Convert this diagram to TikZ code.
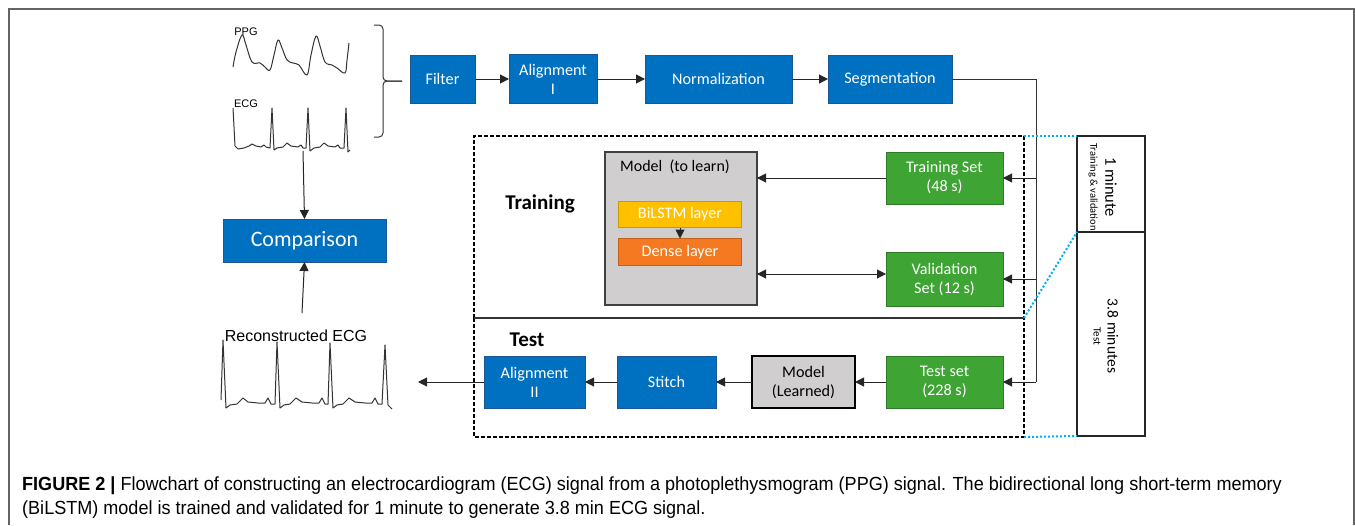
\documentclass[tikz,border=0pt]{standalone}
\usepackage{fontspec}
\setmainfont{Carlito}
\newfontfamily\arialfont{Liberation Sans}
\usetikzlibrary{arrows.meta,positioning}

\definecolor{stepblue}{RGB}{0,112,192}
\definecolor{stepblueline}{RGB}{30,85,150}
\definecolor{setgreen}{RGB}{62,164,52}
\definecolor{setgreenline}{RGB}{45,125,40}
\definecolor{modelgray}{RGB}{208,206,206}
\definecolor{lstmyellow}{RGB}{255,192,0}
\definecolor{denseorange}{RGB}{244,121,32}
\definecolor{splitcyan}{RGB}{0,176,240}
\definecolor{framegray}{RGB}{100,100,100}

\tikzset{
  box/.style={rectangle, inner sep=0pt, outer sep=0pt, align=center,
              font=\fontsize{16.2}{19}\selectfont},
  bluebox/.style={box, fill=stepblue, draw=stepblueline, line width=0.8pt, text=white},
  greenbox/.style={box, fill=setgreen, draw=setgreenline, line width=0.8pt, text=white},
  arr/.style={-{Triangle[length=9pt,width=9pt]}, line width=1pt, draw=black!85},
  dblarr/.style={{Triangle[length=9pt,width=9pt]}-{Triangle[length=9pt,width=9pt]}, line width=1pt, draw=black!85},
  signal/.style={line width=1pt, draw=black!80, line join=round},
  splitline/.style={draw=splitcyan, line width=2pt, dotted},
  panel/.style={rectangle, draw=black!85, line width=1.5pt, inner sep=0pt, outer sep=0pt, minimum width=68pt},
  sidetext/.style={rotate=-90, inner sep=0pt}
}

\begin{document}
\begin{tikzpicture}[x=1pt,y=-1pt]
\useasboundingbox (0,0) rectangle (1355,525);
% figure frame
\draw[framegray, line width=1.5pt] (9,525) -- (9,9) -- (1354,9) -- (1354,525);

% input signals
\node[font=\arialfont\fontsize{11}{12}\selectfont, inner sep=0pt] (ppglabel) at (246,32) {PPG};
\draw[signal] plot[smooth, tension=0.6] coordinates {(233,67) (236,52) (242,35) (246,45) (252,62)
  (260,63) (265,67) (270,70) (274,55) (278,40) (282,48) (287,60) (293,63) (299,65) (307,75)
  (311,55) (316,36) (320,46) (325,62) (332,65) (337,68) (345,73) (347,60) (349,43)};
\node[font=\arialfont\fontsize{11}{12}\selectfont, inner sep=0pt] (ecglabel) at (246,104) {ECG};
\draw[signal] (233,108) -- (235,146) -- (238,149) -- (244,148) -- (249,146) -- (252,144) -- (256,146)
  -- (261,147) -- (264,145) -- (266,147) -- (270,148) -- (272,108) -- (274,150) -- (277,148)
  -- (283,147) -- (287,143) -- (291,146) -- (298,147) -- (301,145) -- (303,148) -- (306,148)
  -- (308,108) -- (310,151) -- (314,148) -- (320,147) -- (324,143) -- (328,146) -- (335,147)
  -- (338,145) -- (340,148) -- (344,148) -- (346,108) -- (348,152) -- (350,150);
\coordinate (ecgfoot) at (303,151);

% brace
\draw[line width=1pt, draw=black!80, rounded corners=4pt] (374,25) -- (383,25) -- (383,81) -- (402,81);
\draw[line width=1pt, draw=black!80, rounded corners=4pt] (374,137) -- (383,137) -- (383,81) -- (402,81);

% preprocessing
\node[bluebox, minimum width=65pt, minimum height=48pt] (filter) at (442.5,79) {Filter};
\node[bluebox, minimum width=88pt, minimum height=49pt] (align1) at (553,79) {Alignment\\I};
\node[bluebox, minimum width=147pt, minimum height=48pt] (norm) at (718.5,79) {Normalization};
\node[bluebox, minimum width=124pt, minimum height=48pt] (seg) at (890,79) {Segmentation};
\draw[arr] (filter) -- (align1);
\draw[arr] (align1) -- (norm);
\draw[arr] (norm) -- (seg);

% comparison
\node[bluebox, minimum width=163pt, minimum height=43pt, font=\fontsize{22}{25}\selectfont] (comp) at (304.5,240.5) {Comparison};
\draw[arr] (ecgfoot) -- (comp.north);
\coordinate (recontop) at (302,313);
\draw[arr] (recontop) -- (comp.south);

% training / test region
\draw[line width=1.5pt, dash pattern=on 4pt off 2pt] (474,318) -- (474,136) -- (1024,136) -- (1024,437) -- (474,437) -- cycle;
\draw[line width=1.2pt, draw=black!80] (474,318) -- (1024,318);
\node[font=\bfseries\fontsize{21}{24}\selectfont, inner sep=0pt] (trainlabel) at (540,204) {Training};
\node[font=\bfseries\fontsize{21}{24}\selectfont, inner sep=0pt] (testlabel) at (527,340) {Test};

\node[box, fill=modelgray, draw=black!75, line width=1.2pt, minimum width=152pt, minimum height=153pt] (model) at (681,228.5) {};
\node[inner sep=0pt, font=\fontsize{16}{18}\selectfont] (modeltitle) at (675,167) {Model\ \ (to learn)};
\node[box, fill=lstmyellow, draw=lstmyellow!80!black, line width=0.6pt, text=white, minimum width=123pt, minimum height=26pt] (bilstm) at (680,214.5) {BiLSTM layer};
\node[box, fill=denseorange, draw=denseorange!80!black, line width=0.6pt, text=white, minimum width=123pt, minimum height=27pt] (dense) at (680,252) {Dense layer};
\draw[arr] (bilstm) -- (dense);

\node[greenbox, minimum width=117pt, minimum height=52pt] (trainset) at (944.5,178) {Training Set\\(48 s)};
\node[greenbox, minimum width=117pt, minimum height=54pt] (validset) at (944.5,279) {Validation\\Set (12 s)};
\node[greenbox, minimum width=117pt, minimum height=52pt] (testset) at (944.5,382) {Test set\\(228 s)};
\coordinate (validtap) at ([yshift=5pt]validset.west);
\draw[arr] (trainset.west) -- (model.east |- trainset.west);
\draw[dblarr] (validtap) -- (model.east |- validtap);

% segment bus
\coordinate (bustop) at (1036,79);
\coordinate (busbottom) at (1036,382);
\draw[line width=1pt, draw=black!80] (seg.east) -- (bustop) -- (busbottom);
\draw[arr] (bustop |- trainset.east) -- (trainset.east);
\draw[arr] (bustop |- validset.east) -- (validset.east);
\draw[arr] (busbottom) -- (testset.east);

% test chain
\node[box, fill=modelgray, draw=black, line width=2pt, minimum width=103pt, minimum height=52pt] (learned) at (803.5,382) {Model\\(Learned)};
\node[bluebox, minimum width=99pt, minimum height=52pt] (stitch) at (666.5,382) {Stitch};
\node[bluebox, minimum width=101pt, minimum height=52pt] (align2) at (534.5,382) {Alignment\\II};
\coordinate (reconend) at (418,382);
\draw[arr] (testset) -- (learned);
\draw[arr] (learned) -- (stitch);
\draw[arr] (stitch) -- (align2);
\draw[arr] (align2) -- (reconend);

% reconstructed signal
\node[font=\arialfont\fontsize{16}{18}\selectfont, inner sep=0pt] (reconlabel) at (296,336) {Reconstructed ECG};
\draw[signal] (221,400) -- (223,340) -- (226,408) -- (230,405) -- (237,404) -- (243,398) -- (248,402)
  -- (258,403) -- (265,403) -- (268,398) -- (271,404) -- (275,404) -- (277,342) -- (280,408)
  -- (284,405) -- (290,404) -- (296,398) -- (302,402) -- (312,403) -- (319,403) -- (322,398)
  -- (325,404) -- (328,404) -- (330,343) -- (333,408) -- (337,405) -- (343,404) -- (349,398)
  -- (355,402) -- (365,403) -- (372,403) -- (375,398) -- (378,404) -- (382,404) -- (385,345)
  -- (388,405) -- (392,409);

% time split panel
\node[panel, minimum height=96pt] (onemin) at (1111,184) {};
\node[panel, minimum height=204pt] (testmin) at (1111,334) {};
\node[sidetext, font=\fontsize{16.5}{18}\selectfont] (onemintext) at (1111,187) {1 minute};
\node[sidetext, font=\fontsize{10.5}{12}\selectfont] (onemintext2) at (1093,187) {Training \& validation};
\node[sidetext, font=\fontsize{15.5}{18}\selectfont] (testmintext) at (1113,336) {3.8 minutes};
\node[sidetext, font=\fontsize{11}{12}\selectfont] (testmintext2) at (1097,336) {Test};
\draw[splitline] (1024,136) -- (onemin.north west);
\draw[splitline] (1024,318) -- (onemin.south west);
\draw[splitline] (1024,437) -- (testmin.south west);

% caption
\node[anchor=base west, inner sep=0pt, font=\arialfont\fontsize{19}{22}\selectfont] (caption1) at (22,490)
  {\scalebox{0.95}[1]{\textbf{FIGURE 2 |} Flowchart of constructing an electrocardiogram (ECG) signal from a photoplethysmogram (PPG) signal. The bidirectional long short-term memory}};
\node[anchor=base west, inner sep=0pt, font=\arialfont\fontsize{19}{22}\selectfont] (caption2) at (22,514)
  {\scalebox{0.95}[1]{(BiLSTM) model is trained and validated for 1 minute to generate 3.8 min ECG signal.}};
\end{tikzpicture}
\end{document}
